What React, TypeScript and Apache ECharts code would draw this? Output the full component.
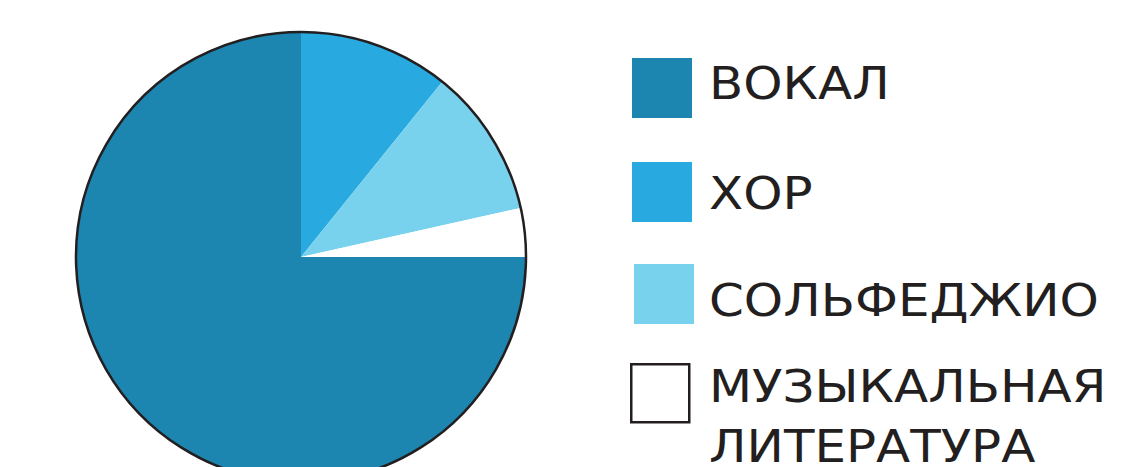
import React, { useEffect, useRef } from "react";
import * as echarts from "echarts";

const categories = ["ВОКАЛ", "ХОР", "СОЛЬФЕДЖИО", "МУЗЫКАЛЬНАЯ ЛИТЕРАТУРА"];
const legendLabels = ["ВОКАЛ", "ХОР", "СОЛЬФЕДЖИО", "МУЗЫКАЛЬНАЯ\nЛИТЕРАТУРА"];
const values = [75, 10.8, 10.7, 3.5];
const colors = ["#1d86b0", "#28a9e0", "#78d2ee", "#ffffff"];

const legendTops = [58, 162, 264, 363];
const legendLefts = [632, 632, 634, 630];
const labelCenters = [83, 193, 300, 386.5];
const lineGap = 60;

export default function App() {
  const ref = useRef<HTMLDivElement>(null);
  useEffect(() => {
    document.body.style.margin = "0";
    const chart = echarts.init(ref.current!, undefined, { renderer: "svg" });
    const graphics: any[] = [];
    categories.forEach((c, i) => {
      const white = colors[i] === "#ffffff";
      graphics.push({
        type: "rect",
        left: legendLefts[i],
        top: legendTops[i],
        shape: { width: white ? 58 : 60, height: white ? 58 : 60 },
        style: {
          fill: colors[i],
          stroke: white ? "#231f20" : null,
          lineWidth: white ? 2.5 : 0,
        },
      });
      legendLabels[i].split("\n").forEach((line, j) => {
        graphics.push({
          type: "text",
          x: 709,
          y: labelCenters[i] + j * lineGap,
          scaleX: 1.11,
          style: {
            text: line,
            fill: "#231f20",
            fontFamily: "DejaVu Sans",
            fontSize: 45,
            lineHeight: 38,
            verticalAlign: "middle",
          },
        });
      });
    });
    chart.setOption({
      animation: false,
      backgroundColor: "#ffffff",
      graphic: graphics,
      series: [
        {
          type: "pie",
          center: [301, 257],
          radius: 225,
          startAngle: 0,
          clockwise: true,
          silent: true,
          label: { show: false },
          labelLine: { show: false },
          itemStyle: { borderWidth: 0 },
          data: categories.map((c, i) => ({
            name: c,
            value: values[i],
            itemStyle: { color: colors[i] },
          })),
        },
        {
          type: "pie",
          center: [301, 257],
          radius: 225,
          silent: true,
          label: { show: false },
          labelLine: { show: false },
          data: [
            {
              value: 1,
              itemStyle: { color: "rgba(0,0,0,0)", borderColor: "#231f20", borderWidth: 2.5 },
            },
          ],
        },
      ],
    });
    return () => chart.dispose();
  }, []);
  return <div ref={ref} style={{ width: 1124, height: 467 }} />;
}
